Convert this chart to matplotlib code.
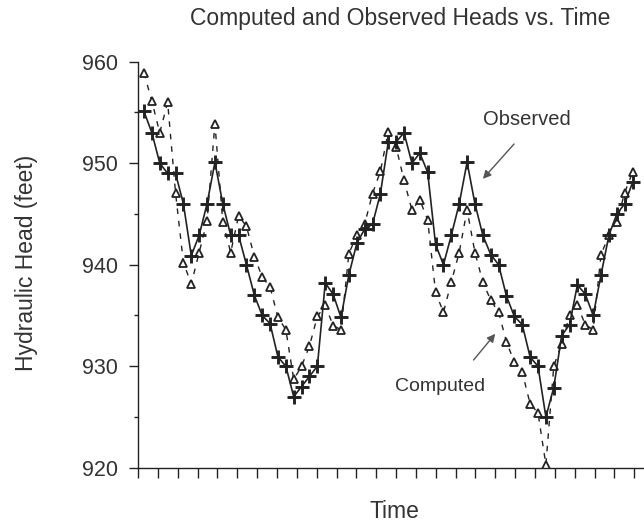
import numpy as np
import matplotlib
matplotlib.use("Agg")
import matplotlib.pyplot as plt
from matplotlib.ticker import MultipleLocator

# observed heads (feet), one value per sample
observed = [955.1, 953.0, 950.0, 949.0, 949.0, 946.0, 940.9, 942.9, 946.0, 950.1,
            946.0, 942.9, 942.9, 940.0, 937.0, 935.0, 934.2, 930.9, 930.0, 927.0,
            928.0, 929.0, 930.0, 938.2, 937.1, 934.8, 939.0, 942.1, 943.5, 944.0,
            947.0, 952.1, 952.1, 953.0, 950.0, 951.0, 949.1, 942.0, 940.0, 942.9,
            946.0, 950.1, 946.0, 942.9, 941.0, 940.0, 936.9, 934.9, 934.1, 930.9,
            930.0, 925.0, 927.9, 933.0, 934.1, 938.0, 937.1, 935.0, 939.0, 942.9,
            945.0, 946.0, 948.1]

# computed heads (feet)
computed = [958.9, 956.1, 953.0, 956.0, 947.1, 940.2, 938.1, 941.2, 944.3, 953.9,
            944.2, 941.2, 944.8, 943.8, 940.8, 938.8, 937.8, 934.8, 933.6, 928.7,
            930.0, 932.0, 934.9, 936.0, 934.0, 933.6, 941.1, 942.9, 944.0, 947.0,
            949.2, 953.1, 951.6, 948.3, 945.4, 946.4, 944.4, 937.3, 935.3, 938.3,
            941.2, 945.4, 941.2, 938.3, 936.5, 935.3, 932.4, 930.4, 929.4, 926.3,
            925.4, 920.3, 930.0, 932.2, 935.0, 936.0, 934.1, 933.6, 941.0, 942.9,
            944.2, 947.1, 949.1]

samples = np.arange(len(observed))
ink = "#222222"

fig = plt.figure(figsize=(6.44, 5.27), dpi=100)
ax = fig.add_axes([138 / 644, 59.3 / 527, 26 * 19.85 / 644, 406 / 527])

ax.plot(samples, computed, linestyle=(0, (4, 5)), color=ink, lw=1.0,
        marker="^", markersize=5.5, markerfacecolor="white",
        markeredgecolor=ink, markeredgewidth=1.3)
ax.plot(samples, observed, "-", color=ink, lw=1.2,
        marker="+", markersize=10.5, markeredgewidth=2.1)

# sample 0 sits ~6 px right of the y axis, ticks every ~2.52 samples
x0 = -6 / 7.88
step = 19.85 / 7.88
ax.set_xlim(x0, x0 + 26 * step)
ax.set_xticks(x0 + np.arange(26) * step)
ax.set_xticklabels([])
ax.set_ylim(920, 960)
ax.yaxis.set_major_locator(MultipleLocator(10))
ax.yaxis.set_minor_locator(MultipleLocator(5))

for s in ["top", "right"]:
    ax.spines[s].set_visible(False)
for s in ["left", "bottom"]:
    ax.spines[s].set_color(ink)
    ax.spines[s].set_linewidth(1.0)

ax.tick_params(axis="x", direction="out", length=7.5, width=1, color=ink)
ax.tick_params(axis="y", which="major", direction="out", length=6.5, width=1,
               color=ink, pad=8, labelsize=15.5, labelcolor="#333333")
ax.tick_params(axis="y", which="minor", direction="out", length=3, width=1, color=ink)
for lab in ax.get_yticklabels():
    lab.set_family("Liberation Sans")

font = dict(family="Liberation Sans", color="#333333")
fig.text(400 / 644, 1 - 18 / 527, "Computed and Observed Heads vs. Time",
         ha="center", va="center", fontsize=16.5, **font)
fig.text(27 / 644, 1 - 263 / 527, "Hydraulic Head (feet)", rotation=90,
         ha="center", va="center", fontsize=16.5, **font)
fig.text(394 / 644, 1 - 511 / 527, "Time", ha="center", va="center",
         fontsize=16.5, **font)

arrow = dict(arrowstyle="-|>", color="#555555", lw=1.0, mutation_scale=12)
ax.annotate("", xy=(42.77, 948.25), xytext=(47.2, 952.1), arrowprops=arrow)
ax.annotate("", xy=(44.8, 933.4), xytext=(41.6, 930.4), arrowprops=arrow)
ax.text(48.6, 954.3, "Observed", ha="center", va="center", fontsize=14.5, **font)
ax.text(37.6, 928.0, "Computed", ha="center", va="center", fontsize=14, **font)

fig.savefig("out.png", dpi=100)
